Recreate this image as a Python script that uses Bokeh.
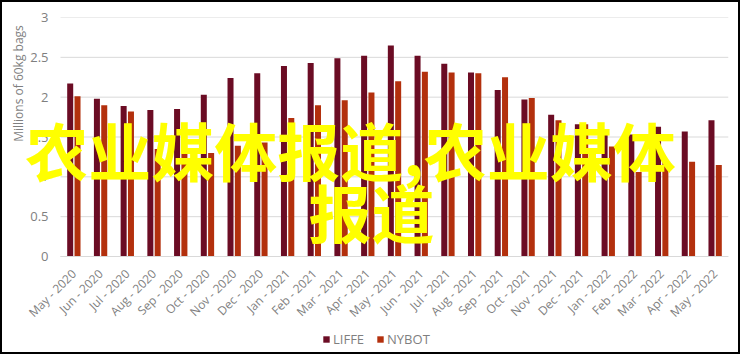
import math
from bokeh.plotting import figure
from bokeh.models import Range1d, Legend, LegendItem, Label, ColumnDataSource, FixedTicker
from bokeh.transform import dodge
from bokeh.embed import file_html
from bokeh.resources import INLINE

months = ["May - 2020", "Jun - 2020", "Jul - 2020", "Aug - 2020", "Sep - 2020", "Oct - 2020",
          "Nov - 2020", "Dec - 2020", "Jan - 2021", "Feb - 2021", "Mar - 2021", "Apr - 2021",
          "May - 2021", "Jun - 2021", "Jul - 2021", "Aug - 2021", "Sep - 2021", "Oct - 2021",
          "Nov - 2021", "Dec - 2021", "Jan - 2022", "Feb - 2022", "Mar - 2022", "Apr - 2022",
          "May - 2022"]
liffe = [2.17, 1.98, 1.89, 1.84, 1.85, 2.03, 2.24, 2.30, 2.39, 2.43, 2.49, 2.52,
         2.65, 2.52, 2.42, 2.31, 2.09, 1.97, 1.78, 1.66, 1.60, 1.53, 1.63, 1.57, 1.71]
nybot = [2.01, 1.90, 1.82, 1.35, 1.30, 1.30, 1.39, 1.43, 1.74, 1.90, 1.96, 2.06,
         2.20, 2.32, 2.31, 2.30, 2.25, 1.99, 1.71, 1.66, 1.38, 1.06, 1.20, 1.19, 1.15]
y_ticks = [0, 0.5, 1, 1.5, 2, 2.5, 3]
y_title = "Millions of 60kg bags"
overlay_line1 = "农业媒体报道,农业媒体"
overlay_line2 = "报道"

FONT = "Open Sans"
GRAY = "#7f7f7f"
DARK = "#6b0c24"
ORANGE = "#b3300d"

# layout geometry (pixels)
FRAME_W = 724
PLOT_H = 239               # height of the 0..3 value area
FRAME_H = 335              # frame extends below the value area to hold axis labels and legend
PLOT_LEFT_PX = 56          # where the category axis starts inside the frame
n = len(months)
band_px = (FRAME_W - PLOT_LEFT_PX) / n
x_start = -0.5 - PLOT_LEFT_PX / band_px
x_end = n - 0.5
y_max = 3
px_per_unit = PLOT_H / y_max
y_start = -(FRAME_H - PLOT_H) / px_per_unit

idx = list(range(n))
src = ColumnDataSource(dict(x=idx, liffe=liffe, nybot=nybot))

p = figure(x_range=Range1d(x_start, x_end), y_range=Range1d(y_start, y_max),
           frame_width=FRAME_W, frame_height=FRAME_H, output_backend="svg",
           toolbar_location=None,
           min_border_left=2, min_border_right=10, min_border_top=15, min_border_bottom=0)
p.styles = {"border": "2px solid black"}
p.outline_line_color = None
p.background_fill_color = "white"
p.border_fill_color = "white"

# gridlines only across the category area
p.xgrid.grid_line_color = None
p.ygrid.grid_line_color = None
p.segment(x0=[-0.5] * len(y_ticks), x1=[x_end] * len(y_ticks), y0=y_ticks, y1=y_ticks,
          line_color="#d9d9d9", line_width=1)

r1 = p.vbar(x=dodge("x", -0.137), top="liffe", width=0.225,
            source=src, fill_color=DARK, line_color=None)
r2 = p.vbar(x=dodge("x", 0.137), top="nybot", width=0.225,
            source=src, fill_color=ORANGE, line_color=None)

p.yaxis.ticker = FixedTicker(ticks=y_ticks)
p.yaxis.axis_line_color = None
p.yaxis.major_tick_line_color = None
p.yaxis.minor_tick_line_color = None
p.yaxis.major_tick_out = 0
p.yaxis.major_tick_in = 0
p.yaxis.major_label_text_font = FONT
p.yaxis.major_label_text_font_size = "13px"
p.yaxis.major_label_text_color = GRAY
p.yaxis.major_label_standoff = -(PLOT_LEFT_PX - 12)

p.xaxis.fixed_location = 0
p.xaxis.ticker = FixedTicker(ticks=idx)
p.xaxis.major_label_overrides = {i: m for i, m in zip(idx, months)}
p.xaxis.bounds = (-0.5, x_end)
p.xaxis.axis_line_color = "#d9d9d9"
p.xaxis.major_tick_line_color = None
p.xaxis.minor_tick_line_color = None
p.xaxis.major_tick_out = 0
p.xaxis.major_tick_in = 0
p.xaxis.major_label_orientation = math.pi / 4
p.xaxis.major_label_text_font = FONT
p.xaxis.major_label_text_font_size = "12px"
p.xaxis.major_label_text_color = GRAY
p.xaxis.major_label_standoff = 15

p.add_layout(Label(x=-0.5 - 42 / band_px, y=(256 - 83) / px_per_unit - 16 / px_per_unit + 16 / px_per_unit,
                   text=y_title, angle=math.pi / 2,
                   text_align="center", text_baseline="middle",
                   text_font=FONT, text_font_size="12px", text_color=GRAY))

legend = Legend(items=[LegendItem(label="LIFFE", renderers=[r1]),
                       LegendItem(label="NYBOT", renderers=[r2])],
                orientation="horizontal", location=(318, 4),
                glyph_width=8, glyph_height=8, label_height=14, label_standoff=3, spacing=12,
                padding=0, margin=0, border_line_color=None, background_fill_alpha=0,
                label_text_font=FONT, label_text_font_size="13px", label_text_color=GRAY)
p.add_layout(legend, "center")

p.add_layout(Label(x=-0.5 + 290 / band_px, y=1.35, text=overlay_line1, text_align="center",
                   text_baseline="middle", text_font="Noto Sans CJK SC",
                   text_font_style="bold", text_font_size="63px", text_color="#ffff00"))
p.add_layout(Label(x=-0.5 + 311 / band_px, y=0.575, text=overlay_line2, text_align="center",
                   text_baseline="middle", text_font="Noto Sans CJK SC",
                   text_font_style="bold", text_font_size="63px", text_color="#ffff00"))

open("out.html", "w").write(file_html(p, INLINE))
